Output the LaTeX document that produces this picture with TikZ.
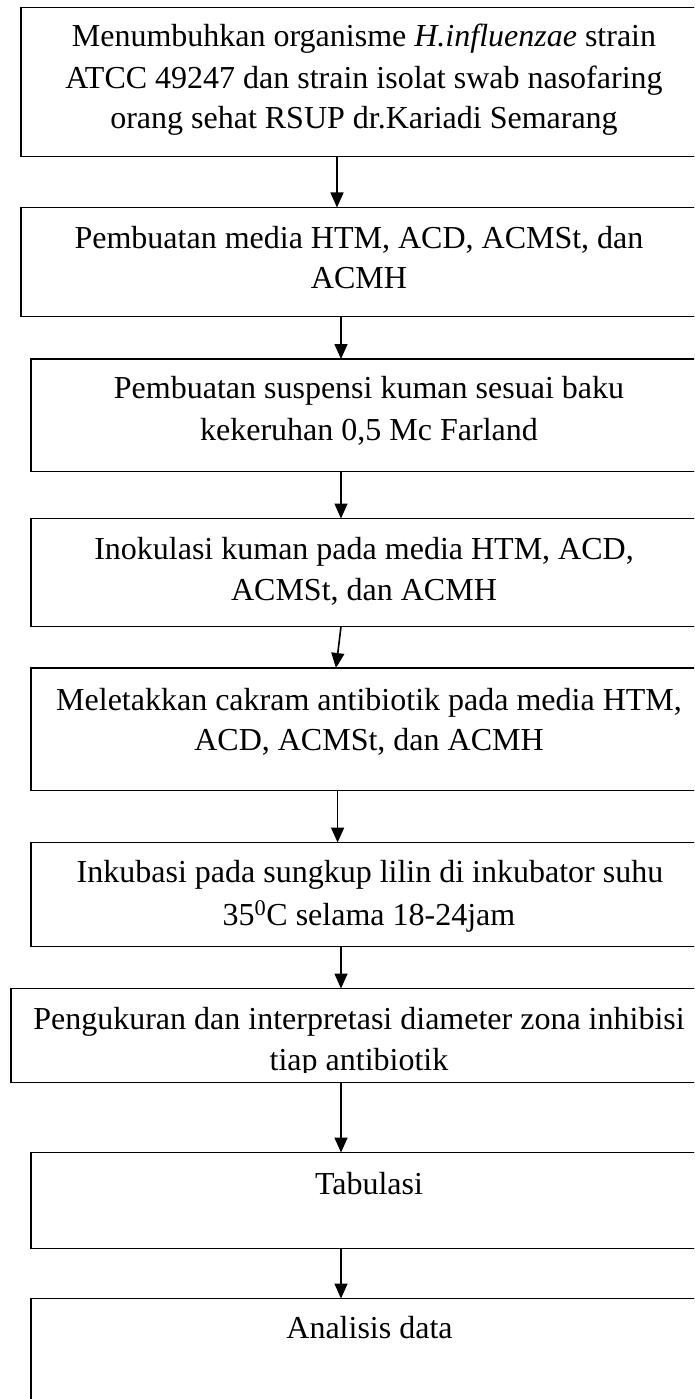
\documentclass[tikz,border=0pt]{standalone}
\usepackage{fontspec}
\setmainfont{Liberation Serif}
\usetikzlibrary{arrows.meta}
\begin{document}
\begin{tikzpicture}[x=1pt,y=-1pt,
  stepbox/.style={draw, line width=1.3pt, inner sep=0pt, outer sep=0pt, anchor=north west},
  arr/.style={-{Triangle[width=13pt,length=15pt]}, line width=1.6pt},
  txt/.style={anchor=base, inner sep=0pt, font=\fontsize{32}{41}\selectfont}]
\useasboundingbox (0,0) rectangle (694,1399);
\clip (0,0) rectangle (694,1399);
\fill[white] (0,0) rectangle (694,1399);
% boxes
\node[stepbox, minimum width=686pt, minimum height=149pt] (b1) at (21,7.5) {};
\node[stepbox, minimum width=686pt, minimum height=109pt] (b2) at (21,207.5) {};
\node[stepbox, minimum width=676pt, minimum height=112.5pt] (b3) at (31,359) {};
\node[stepbox, minimum width=676pt, minimum height=108pt] (b4) at (31,518.5) {};
\node[stepbox, minimum width=676pt, minimum height=122.5pt] (b5) at (31,668) {};
\node[stepbox, minimum width=676pt, minimum height=104pt] (b6) at (31,842.5) {};
\node[stepbox, minimum width=696pt, minimum height=94pt] (b7) at (11,988.5) {};
\node[stepbox, minimum width=676pt, minimum height=96pt] (b8) at (31,1152.5) {};
\node[stepbox, minimum width=676pt, minimum height=131.5pt] (b9) at (31,1298.5) {};
% texts
\node[txt] (t11) at (364,46.7) {Menumbuhkan organisme \textit{H.influenzae} strain};
\node[txt] (t12) at (364,89) {ATCC 49247 dan strain isolat swab nasofaring};
\node[txt] (t13) at (364,128.3) {orang sehat RSUP dr.Kariadi Semarang};
\node[txt] (t21) at (359,248.3) {Pembuatan media HTM, ACD, ACMSt, dan};
\node[txt] (t22) at (359,288.3) {ACMH};
\node[txt] (t31) at (369,398.3) {Pembuatan suspensi kuman sesuai baku};
\node[txt] (t32) at (369,440) {kekeruhan 0,5 Mc Farland};
\node[txt] (t41) at (364,559.3) {Inokulasi kuman pada media HTM, ACD,};
\node[txt] (t42) at (364,600) {ACMSt, dan ACMH};
\node[txt] (t51) at (369,710) {Meletakkan cakram antibiotik pada media HTM,};
\node[txt] (t52) at (369,750.7) {ACD, ACMSt, dan ACMH};
\node[txt] (t61) at (370,882.7) {Inkubasi pada sungkup lilin di inkubator suhu};
\node[txt] (t62) at (369,925) {35\textsuperscript{0}C selama 18-24jam};
\node[txt] (t71) at (359,1029.3) {Pengukuran dan interpretasi diameter zona inhibisi};
\begin{scope}
\clip (0,0) rectangle (694,1072);
\node[txt] (t72) at (359,1070.5) {tiap antibiotik};
\end{scope}
\node[txt] (t81) at (369,1194) {Tabulasi};
\node[txt] (t91) at (369.5,1338.3) {Analisis data};
% arrows
\coordinate (xa) at (337,0);
\coordinate (xb) at (341,0);
\coordinate (xc) at (336,0);
\coordinate (xd) at (337.6,0);
\draw[arr] (b1.south -| xa) -- (b2.north -| xa);
\draw[arr] (b2.south -| xb) -- (b3.north -| xb);
\draw[arr] (b3.south -| xb) -- (b4.north -| xb);
\draw[arr] (b4.south -| xb) -- (b5.north -| xc);
\draw[arr] (b5.south -| xd) -- (b6.north -| xd);
\draw[arr] (b6.south -| xb) -- (b7.north -| xb);
\draw[arr] (b7.south -| xb) -- (b8.north -| xb);
\draw[arr] (b8.south -| xb) -- (b9.north -| xb);
\end{tikzpicture}
\end{document}
